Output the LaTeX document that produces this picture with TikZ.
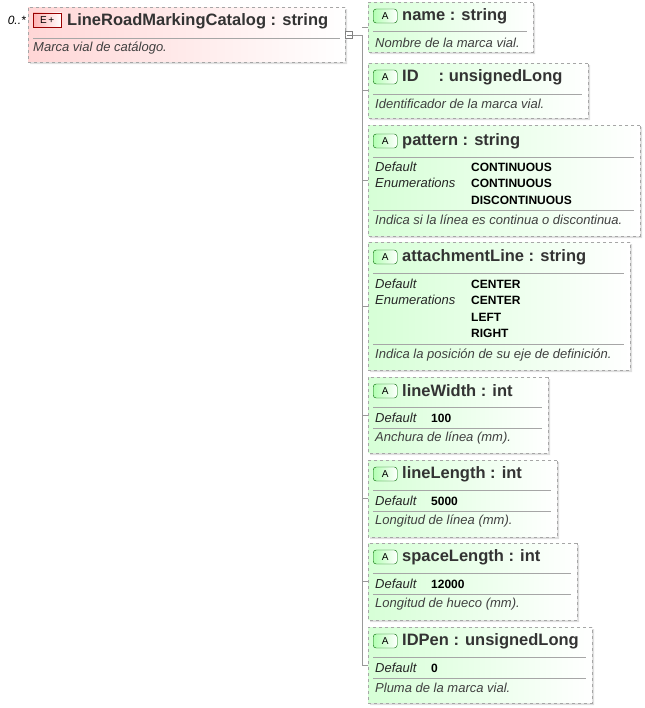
\documentclass[tikz,border=0pt]{standalone}
\usepackage{fontspec}
\setmainfont{Liberation Sans}
\usetikzlibrary{shapes.misc, shadows, positioning}

\begin{document}
\begin{tikzpicture}[x=1pt, y=-1pt,
		box/.style={chamfered rectangle, chamfered rectangle corners=north west,
			chamfered rectangle xsep=6pt, draw=gray!70, dashed, inner sep=0pt,
			drop shadow={shadow xshift=2pt, shadow yshift=-2pt, opacity=0.25, fill=gray}},
		attr/.style={box, left color=green!16, right color=white},
		elem/.style={box, left color=red!16, right color=white},
		title/.style={anchor=west, inner sep=0pt, font=\fontsize{16.5}{18}\selectfont\bfseries, text=black!80},
		desc/.style={anchor=west, inner sep=0pt, font=\fontsize{13}{15}\selectfont\itshape, text=black!75},
		key/.style={anchor=west, inner sep=0pt, font=\fontsize{13}{15}\selectfont\itshape, text=black!85},
		val/.style={anchor=west, inner sep=0pt, font=\fontsize{12}{14}\selectfont\bfseries},
		sep/.style={gray!70},
		tree/.style={gray!80},
		aicon/.style={draw=green!40!black, rounded corners=3pt, left color=green!30, right color=white,
			minimum width=24pt, minimum height=14pt, inner sep=0pt, font=\fontsize{10}{11}\selectfont, anchor=west}
		]
		\useasboundingbox (0,0) rectangle (644,708);
		
		% === ELEMENT ===
		\node[elem, minimum width=317pt, minimum height=55pt, anchor=north west] (elem) at (28,7) {};
		\node[anchor=east, inner sep=0pt, font=\fontsize{12}{14}\selectfont\itshape] (card) at (26,20) {0..*};
		\node[draw=red!60!black, left color=red!30, right color=white, minimum width=28pt, minimum height=14pt,
		inner sep=0pt, font=\fontsize{10}{11}\selectfont, anchor=west] (eicon) at (33,20) {E$\,$+};
		\node[title] at (67,21) {LineRoadMarkingCatalog : string};
		\draw[sep] (33,38) -- (340,38);
		\node[desc] at (33,48) {Marca vial de catálogo.};
		\node[draw=gray, minimum size=7pt, inner sep=0pt, fill=white] (expand) at (349,35) {};
		\draw[gray] (346.5,35) -- (351.5,35);
		\coordinate (trunk) at (362,35);
		\coordinate (trunkend) at (362,665);
		\draw[tree] (elem.east |- expand) -- (expand);
		\draw[tree] (expand) -- (trunk) -- (trunkend);
		
		% === ATTRIBUTES ===
		% name
		\node[attr, minimum width=165pt, minimum height=50pt, anchor=north west] (name) at (368,2) {};
		\node[aicon] at (373,16) {A};
		\node[title] at (402,16) {name : string};
		\draw[sep] (373,31) -- (527,31);
		\node[desc] at (375,43) {Nombre de la marca vial.};
		
		% ID
		\node[attr, minimum width=220pt, minimum height=55pt, anchor=north west] (id) at (368,63) {};
		\node[aicon] at (373,77) {A};
		\node[title] at (402,77) {ID\hspace{20pt}: unsignedLong};
		\draw[sep] (373,94) -- (582,94);
		\node[desc] at (375,104) {Identificador de la marca vial.};
		
		% pattern
		\node[attr, minimum width=272pt, minimum height=111pt, anchor=north west] (pattern) at (368,125) {};
		\node[aicon] at (373,141) {A};
		\node[title] at (402,141) {pattern : string};
		\draw[sep] (373,157) -- (634,157);
		\node[key] at (375,167) {Default};
		\node[val] at (471,167) {CONTINUOUS};
		\node[key] at (375,183) {Enumerations};
		\node[val] at (471,183) {CONTINUOUS};
		\node[val] at (471,200) {DISCONTINUOUS};
		\draw[sep] (373,210) -- (634,210);
		\node[desc] at (375,220) {Indica si la línea es continua o discontinua.};
		
		% attachmentLine
		\node[attr, minimum width=262pt, minimum height=128pt, anchor=north west] (attach) at (368,242) {};
		\node[aicon] at (373,257) {A};
		\node[title] at (402,257) {attachmentLine : string};
		\draw[sep] (373,273) -- (624,273);
		\node[key] at (375,284) {Default};
		\node[val] at (471,284) {CENTER};
		\node[key] at (375,300) {Enumerations};
		\node[val] at (471,300) {CENTER};
		\node[val] at (471,317) {LEFT};
		\node[val] at (471,333) {RIGHT};
		\draw[sep] (373,344) -- (624,344);
		\node[desc] at (375,355) {Indica la posición de su eje de definición.};
		
		% lineWidth
		\node[attr, minimum width=180pt, minimum height=76pt, anchor=north west] (width) at (368,377) {};
		\node[aicon] at (373,391) {A};
		\node[title] at (402,391) {lineWidth : int};
		\draw[sep] (373,407) -- (542,407);
		\node[key] at (375,418) {Default};
		\node[val] at (431,418) {100};
		\draw[sep] (373,428) -- (542,428);
		\node[desc] at (375,438) {Anchura de línea (mm).};
		
		% lineLength
		\node[attr, minimum width=189pt, minimum height=77pt, anchor=north west] (length) at (368,460) {};
		\node[aicon] at (373,474) {A};
		\node[title] at (402,474) {lineLength : int};
		\draw[sep] (373,490) -- (551,490);
		\node[key] at (375,501) {Default};
		\node[val] at (431,501) {5000};
		\draw[sep] (373,511) -- (551,511);
		\node[desc] at (375,521) {Longitud de línea (mm).};
		
		% spaceLength
		\node[attr, minimum width=209pt, minimum height=77pt, anchor=north west] (space) at (368,543) {};
		\node[aicon] at (373,557) {A};
		\node[title] at (402,557) {spaceLength : int};
		\draw[sep] (373,573) -- (571,573);
		\node[key] at (375,584) {Default};
		\node[val] at (431,584) {12000};
		\draw[sep] (373,594) -- (571,594);
		\node[desc] at (375,604) {Longitud de hueco (mm).};
		
		% IDPen
		\node[attr, minimum width=224pt, minimum height=76pt, anchor=north west] (idpen) at (368,627) {};
		\node[aicon] at (373,641) {A};
		\node[title] at (402,641) {IDPen : unsignedLong};
		\draw[sep] (373,657) -- (586,657);
		\node[key] at (375,668) {Default};
		\node[val] at (431,668) {0};
		\draw[sep] (373,678) -- (586,678);
		\node[desc] at (375,688) {Pluma de la marca vial.};
		
		% === TREE TICKS ===
		\foreach \a in {name, id, pattern, attach, width, length, space, idpen}
		\draw[tree] (trunk |- \a.west) -- (\a.west);
		
	\end{tikzpicture}
\end{document}
